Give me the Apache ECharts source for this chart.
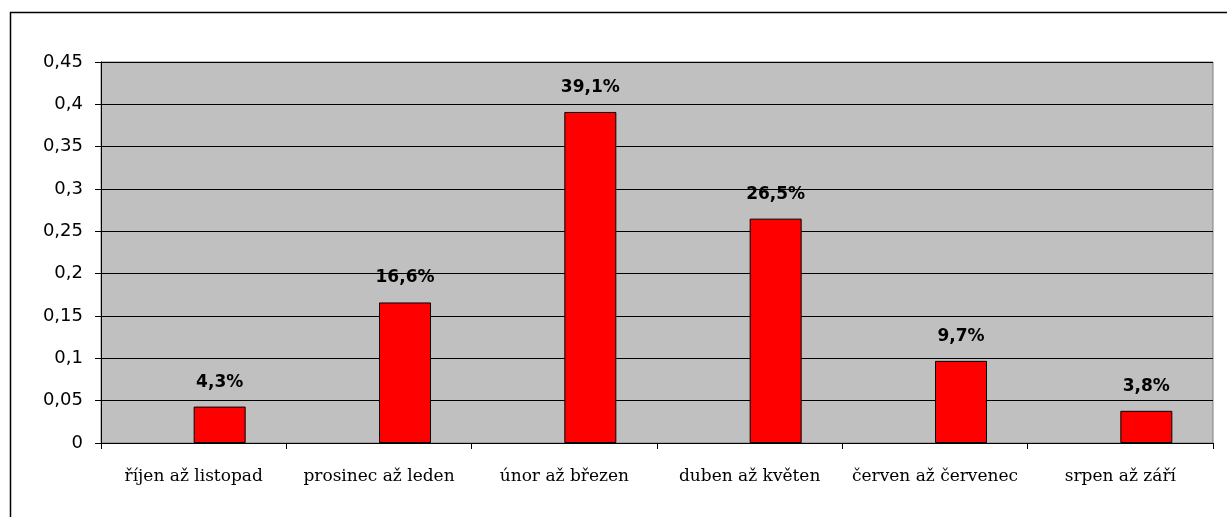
<!DOCTYPE html>
<html>
<head>
<meta charset="utf-8">
<script src="https://cdn.jsdelivr.net/npm/echarts@6/dist/echarts.min.js"></script>
<style>
  html, body { margin: 0; padding: 0; background: #fff; }
  #chart { width: 1227px; height: 517px; }
</style>
</head>
<body>
<div id="chart"></div>
<script>
// období a podíly
let categories = ['říjen až listopad', 'prosinec až leden', 'únor až březen', 'duben až květen', 'červen až červenec', 'srpen až září']
let values = [0.043, 0.166, 0.391, 0.265, 0.097, 0.038]
let labels = ['4,3%', '16,6%', '39,1%', '26,5%', '9,7%', '3,8%']
// prázdná první řada (v originále sloupce posunuté doprava)
let emptySeries = categories.map(() => null)

let chart = echarts.init(document.getElementById('chart'))

let option = {
  animation: false,
  graphic: [{
    type: 'rect',
    shape: { x: 10.5, y: 12.5, width: 1240, height: 520 },
    style: { fill: 'none', stroke: '#000', lineWidth: 1.5 },
    z: 100
  }],
  grid: {
    left: 101, top: 62, right: 14, bottom: 74,
    show: true,
    backgroundColor: '#c0c0c0',
    borderColor: '#808080',
    borderWidth: 1
  },
  xAxis: {
    type: 'category',
    data: categories,
    axisLine: { lineStyle: { color: '#000', width: 1 } },
    axisTick: { show: true, interval: 0, length: 6, lineStyle: { color: '#000' } },
    axisLabel: {
      interval: 0,
      hideOverlap: false,
      color: '#000',
      fontFamily: 'DejaVu Serif',
      fontSize: 17,
      margin: 25
    }
  },
  yAxis: {
    type: 'value',
    min: 0,
    max: 0.45,
    interval: 0.05,
    axisLine: { show: true, lineStyle: { color: '#000', width: 1 } },
    axisTick: { show: true, length: 6, lineStyle: { color: '#000' } },
    splitLine: { lineStyle: { color: '#000', width: 1 } },
    axisLabel: {
      color: '#000',
      fontFamily: 'DejaVu Sans',
      fontSize: 18,
      margin: 18,
      formatter: v => String(+v.toFixed(2)).replace('.', ',')
    }
  },
  series: [{
    type: 'bar',
    data: emptySeries,
    barWidth: 52,
    barGap: 0
  }, {
    type: 'bar',
    data: values,
    barWidth: 52,
    barGap: 0,
    itemStyle: { color: '#ff0000', borderColor: '#000', borderWidth: 1 },
    label: {
      show: true,
      position: 'top',
      distance: 16,
      color: '#000',
      fontFamily: 'DejaVu Sans',
      fontWeight: 'bold',
      fontSize: 17,
      formatter: p => labels[p.dataIndex]
    }
  }]
}

chart.setOption(option)
</script>
</body>
</html>
